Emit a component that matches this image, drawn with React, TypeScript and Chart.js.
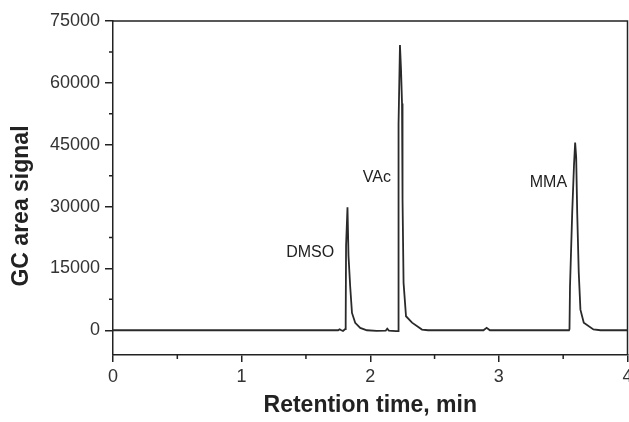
import React, { useEffect, useRef } from "react";
import { Chart, registerables } from "chart.js";

Chart.register(...registerables);

// Retention time (min) and GC area signal of the chromatogram trace
const TIME = [
  0, 1.75, 1.762, 1.775, 1.788, 1.806, 1.809, 1.812, 1.823, 1.831, 1.844, 1.858, 1.883, 1.922, 1.974,
  2.05, 2.12, 2.132, 2.145, 2.2, 2.216, 2.218, 2.222, 2.231, 2.239, 2.247, 2.251, 2.259, 2.278, 2.325, 2.402, 2.45,
  2.88, 2.905, 2.93,
  3.545, 3.549, 3.553, 3.57, 3.584, 3.593, 3.601, 3.609, 3.621, 3.634, 3.66, 3.735, 3.79, 4.0,
];
const SIGNAL = [
  0, 0, 250, 0, -150, 300, 2000, 20500, 29800, 18000, 10600, 4200, 1800, 580, 0,
  -150, -100, 400, -100, -200, -200, 3400, 50000, 69200, 63500, 55000, 31700, 11500, 3400, 1850, 170, 0,
  0, 600, 0,
  0, 300, 10650, 28400, 40000, 45500, 42000, 28500, 14000, 5000, 1850, 200, 0, 0,
];

const X_TICKS = [0, 1, 2, 3, 4];
const X_MINOR = [0.5, 1.5, 2.5, 3.5];
const Y_TICKS = [0, 15000, 30000, 45000, 60000, 75000];
const Y_MINOR = [7500, 22500, 37500, 52500, 67500];

const PEAK_NAMES = ["DMSO", "VAc", "MMA"];
const PEAK_LABEL_T = [1.533, 2.052, 3.385];
const PEAK_LABEL_Y = [18800, 37000, 35800];

const X_TITLE = "Retention time, min";
const Y_TITLE = "GC area signal";

const FONT = "'Liberation Sans', Arial, sans-serif";
const INK = "#222";

const decorPlugin = {
  id: "decor",
  afterDraw(chart: any) {
    const { ctx, chartArea, scales } = chart;
    const xs = scales.x;
    const ys = scales.y;
    ctx.save();
    ctx.strokeStyle = INK;
    ctx.lineWidth = 1.5;
    // top & right frame
    ctx.beginPath();
    ctx.moveTo(chartArea.left, chartArea.top);
    ctx.lineTo(chartArea.right, chartArea.top);
    ctx.lineTo(chartArea.right, chartArea.bottom);
    ctx.stroke();
    // minor ticks
    ctx.beginPath();
    X_MINOR.forEach((v) => {
      const px = xs.getPixelForValue(v);
      ctx.moveTo(px, chartArea.bottom);
      ctx.lineTo(px, chartArea.bottom + 4);
    });
    Y_MINOR.forEach((v) => {
      const py = ys.getPixelForValue(v);
      ctx.moveTo(chartArea.left, py);
      ctx.lineTo(chartArea.left - 4, py);
    });
    ctx.stroke();
    // peak labels
    ctx.fillStyle = INK;
    ctx.font = `16px ${FONT}`;
    ctx.textAlign = "center";
    ctx.textBaseline = "middle";
    PEAK_NAMES.forEach((name, i) => {
      ctx.fillText(name, xs.getPixelForValue(PEAK_LABEL_T[i]), ys.getPixelForValue(PEAK_LABEL_Y[i]));
    });
    // y title
    ctx.font = `bold 23px ${FONT}`;
    ctx.translate(22, 206);
    ctx.rotate(-Math.PI / 2);
    ctx.fillText(Y_TITLE, 0, 0);
    ctx.restore();
  },
};

export default function App() {
  const ref = useRef<HTMLCanvasElement | null>(null);
  useEffect(() => {
    document.body.style.margin = "0";
    const canvas = ref.current;
    if (!canvas) return;
    const chart = new Chart(canvas, {
      type: "line",
      data: {
        datasets: [
          {
            data: TIME.map((t, i) => ({ x: t, y: SIGNAL[i] })),
            borderColor: "#2a2a2a",
            borderWidth: 1.8,
            pointRadius: 0,
            tension: 0,
            fill: false,
          },
        ],
      },
      options: {
        responsive: false,
        animation: false,
        events: [],
        layout: { padding: { top: 21, right: 1.5, left: 0, bottom: 0 } },
        plugins: { legend: { display: false }, tooltip: { enabled: false } },
        scales: {
          x: {
            type: "linear",
            min: 0,
            max: 4,
            afterBuildTicks: (s: any) => {
              s.ticks = X_TICKS.map((v) => ({ value: v }));
            },
            afterFit: (s: any) => {
              s.height = 67;
              s.paddingLeft = 0;
              s.paddingRight = 0;
            },
            grid: { drawOnChartArea: false, drawTicks: true, tickLength: 7, color: INK, lineWidth: 1.5 },
            border: { color: INK, width: 1.5 },
            ticks: {
              padding: 4,
              color: "#333",
              font: { family: FONT, size: 18 },
              maxRotation: 0,
              autoSkip: false,
              callback: (v: any) => String(v),
            },
            title: {
              display: true,
              text: X_TITLE,
              color: INK,
              font: { family: FONT, size: 23, weight: "bold" },
              padding: { top: 0, bottom: 3 },
            },
          },
          y: {
            type: "linear",
            min: -6000,
            max: 75000,
            afterBuildTicks: (s: any) => {
              s.ticks = Y_TICKS.map((v) => ({ value: v }));
            },
            afterFit: (s: any) => {
              s.width = 113;
            },
            grid: { drawOnChartArea: false, drawTicks: true, tickLength: 8, color: INK, lineWidth: 1.5 },
            border: { color: INK, width: 1.5 },
            ticks: {
              padding: 5,
              color: "#333",
              font: { family: FONT, size: 18 },
              autoSkip: false,
              callback: (v: any) => String(v),
            },
          },
        },
      },
      plugins: [decorPlugin],
    });
    return () => chart.destroy();
  }, []);
  return <canvas ref={ref} width={629} height={422} style={{ display: "block" }} />;
}
